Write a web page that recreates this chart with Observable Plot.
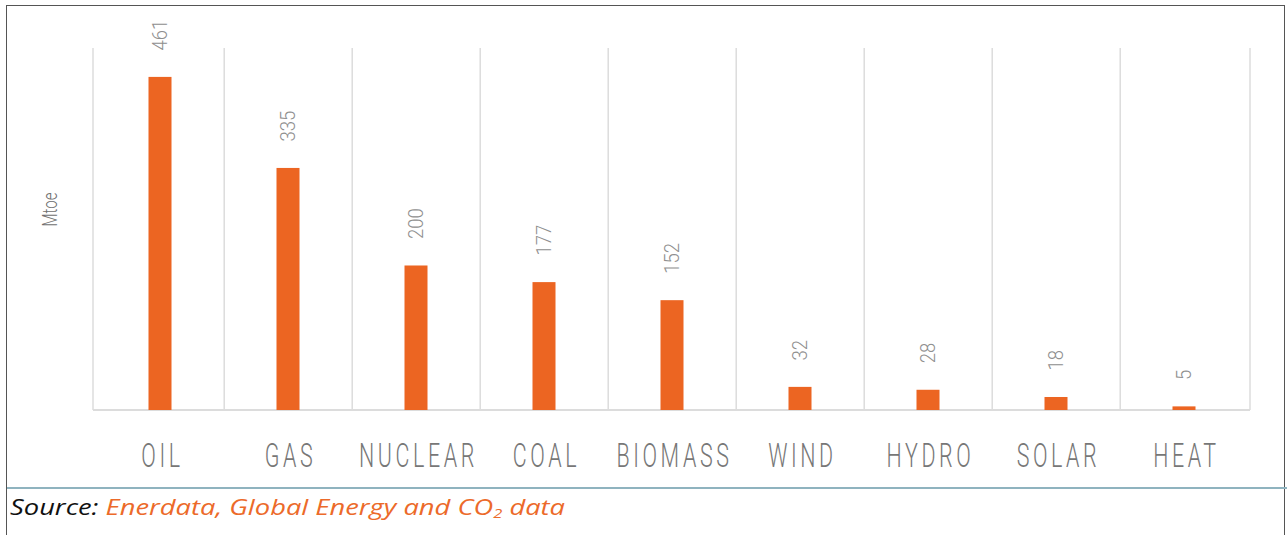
<!DOCTYPE html>
<html>
<head>
<meta charset="utf-8">
<script src="https://cdn.jsdelivr.net/npm/d3@7"></script>
<script src="https://cdn.jsdelivr.net/npm/@observablehq/plot@0.6"></script>
<style>
  html, body { margin: 0; padding: 0; background: #fff; }
  #frame {
    position: absolute; left: 6px; top: 5px; width: 1279px; height: 540px;
    border-left: 1px solid #555; border-top: 1px solid #555; border-right: 1px solid #555;
    box-sizing: border-box;
  }
  #chart { position: absolute; left: 0; top: 0; }
  #rule { position: absolute; left: 7px; top: 487px; width: 1280px; height: 0; border-top: 2px solid #8fb3bf; }
  #caption {
    position: absolute; left: 10px; top: 492px; white-space: nowrap;
    font-family: "Open Sans", sans-serif; font-style: italic; font-size: 21.5px; color: #111;
    transform: scaleX(1.27); transform-origin: 0 0;
  }
  #caption .src { color: #ec6a2a; }
</style>
</head>
<body>
<div id="frame"></div>
<div id="chart"></div>
<div id="rule"></div>
<div id="caption">Source: <span class="src">Enerdata, Global Energy and CO<sub style="font-size:13px;vertical-align:-3px">2</sub> data</span></div>
<script>
const categories = ["OIL", "GAS", "NUCLEAR", "COAL", "BIOMASS", "WIND", "HYDRO", "SOLAR", "HEAT"];
const values = [461, 335, 200, 177, 152, 32, 28, 18, 5];
const yLabel = "Mtoe";

const data = categories.map((c, i) => ({category: c, value: values[i]}));

const chart = Plot.plot({
  width: 1287,
  height: 480,
  marginTop: 48,
  marginBottom: 70,
  marginLeft: 93,
  marginRight: 37,
  style: {fontFamily: "Roboto, sans-serif", background: "transparent"},
  x: {domain: categories, padding: 0, align: 0.5},
  y: {domain: [0, 501], axis: null},
  marks: [
    Plot.gridX(categories.slice(1), {
      x: d => d, stroke: "#dcdcdc", strokeOpacity: 1, strokeWidth: 1.5,
      dx: -64.3
    }),
    Plot.barY(data, {
      x: "category", y: "value", fill: "#ec6522",
      insetLeft: 52.5, insetRight: 52.5
    }),
    Plot.text(data, {
      x: "category", y: "value", text: d => String(d.value),
      rotate: -90, textAnchor: "start", dy: -27,
      fill: "#8f8f8f", fontSize: 21, fontWeight: 300,
      fontFamily: "Roboto, sans-serif"
    }),
    Plot.axisX({
      tickSize: 0, tickPadding: 33, fontSize: 33, fill: "#777",
      fontWeight: 300, label: null
    }),
    Plot.text([yLabel], {
      frameAnchor: "left", dx: -43, dy: -3, rotate: -90, fontSize: 21,
      fontWeight: 300, fill: "#6f6f6f", text: d => d
    })
  ]
});

document.getElementById("chart").appendChild(chart);
const xs = chart.scale("x");
const svg = d3.select(chart);

// condensed, letter-spaced look for the category labels and the axis title
svg.selectAll('g[aria-label="x-axis tick label"] text').each(function() {
  this.style.letterSpacing = "5.5px";
  const t = this.getAttribute("transform") || "";
  this.setAttribute("transform", t + " scale(0.65,1) translate(3,0)");
});
svg.selectAll('g[aria-label="text"] text').each(function() {
  const t = this.getAttribute("transform") || "";
  if (this.textContent === yLabel) {
    this.setAttribute("transform", t + " scale(0.72,1)");
  } else {
    this.setAttribute("transform", t + " scale(0.88,1)");
  }
});

// outer band edges and baseline, from the Plot x scale
const edges = [xs.range[0], xs.range[1]];
svg.insert("g", ":first-child")
  .selectAll("line").data(edges).join("line")
  .attr("x1", d => d).attr("x2", d => d)
  .attr("y1", 48).attr("y2", 410)
  .attr("stroke", "#dcdcdc").attr("stroke-width", 1.5);
svg.insert("line", ":first-child")
  .attr("x1", xs.range[0]).attr("x2", xs.range[1])
  .attr("y1", 410).attr("y2", 410)
  .attr("stroke", "#d0d0d0").attr("stroke-width", 1.5);
</script>
</body>
</html>
